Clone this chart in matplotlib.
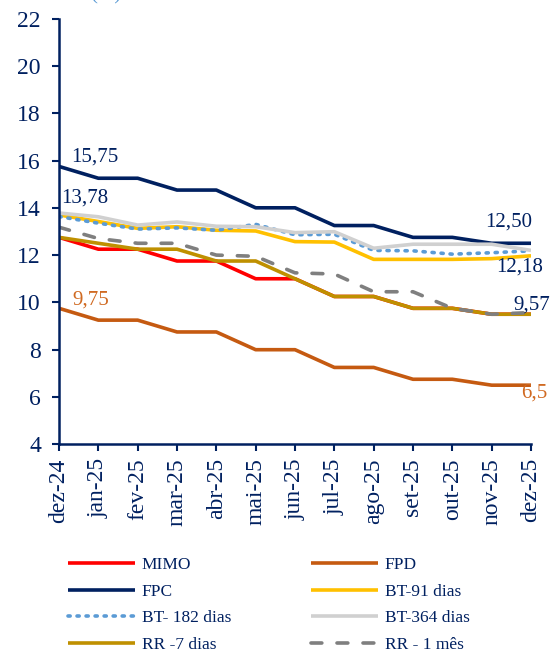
import matplotlib
matplotlib.use("Agg")
import matplotlib.pyplot as plt

months = ["dez-24", "jan-25", "fev-25", "mar-25", "abr-25", "mai-25", "jun-25",
          "jul-25", "ago-25", "set-25", "out-25", "nov-25", "dez-25"]

mimo   = [12.75, 12.25, 12.25, 11.75, 11.75, 11.0, 11.0, 10.25, 10.25, 9.75, 9.75, 9.5, 9.5]
fpd    = [9.75, 9.25, 9.25, 8.75, 8.75, 8.0, 8.0, 7.25, 7.25, 6.75, 6.75, 6.5, 6.5]
fpc    = [15.75, 15.25, 15.25, 14.75, 14.75, 14.0, 14.0, 13.25, 13.25, 12.75, 12.75, 12.5, 12.5]
bt91   = [13.70, 13.42, 13.13, 13.20, 13.05, 13.02, 12.57, 12.55, 11.82, 11.82, 11.82, 11.85, 11.97]
bt182  = [13.63, 13.35, 13.10, 13.15, 13.05, 13.30, 12.86, 12.88, 12.20, 12.18, 12.04, 12.10, 12.18]
bt364  = [13.78, 13.62, 13.27, 13.40, 13.22, 13.20, 12.95, 12.99, 12.29, 12.46, 12.46, 12.46, 12.20]
rr7    = [12.75, 12.50, 12.25, 12.25, 11.75, 11.75, 11.0, 10.25, 10.25, 9.75, 9.75, 9.5, 9.5]
rr1m   = [13.18, 12.70, 12.50, 12.50, 12.00, 11.95, 11.25, 11.20, 10.45, 10.45, 9.75, 9.50, 9.57]

yticks = [4, 6, 8, 10, 12, 14, 16, 18, 20, 22]

NAVY = "#002060"
ORANGE_TXT = "#D06A22"
FONT = ["Liberation Serif", "DejaVu Serif"]
plt.rcParams["font.family"] = FONT

fig = plt.figure(figsize=(5.5, 6.55), dpi=100)
ax = fig.add_axes([59/550, 1-444.3/655, 472/550, (444.3-18.6)/655])

x = list(range(len(months)))
lw = 2.6
series = [
    ("MIMO", mimo, dict(color="#FF0000", lw=lw, ls="-")),
    ("FPD", fpd, dict(color="#C55A11", lw=lw, ls="-")),
    ("FPC", fpc, dict(color=NAVY, lw=lw, ls="-")),
    ("BT-91 dias", bt91, dict(color="#FFC000", lw=lw, ls="-")),
    ("BT- 182 dias", bt182, dict(color="#5B9BD5", lw=lw, ls=(0, (0.6, 1.9)), dash_capstyle="round")),
    ("BT-364 dias", bt364, dict(color="#D0D0D0", lw=lw, ls="-")),
    ("RR -7 dias", rr7, dict(color="#BF9000", lw=lw, ls="-")),
    ("RR - 1 mês", rr1m, dict(color="#7F7F7F", lw=lw, ls=(0, (3, 4.2)), dash_capstyle="round")),
]
handles = {}
for name, vals, st in series:
    h, = ax.plot(x, vals, label=name, solid_capstyle="butt", **st)
    handles[name] = h

ax.set_xlim(0, 12)
ax.set_ylim(4, 22)
ax.set_yticks(yticks)
ax.set_xticks(x)
ax.set_xticklabels(months, rotation=90)
for s in ["top", "right"]:
    ax.spines[s].set_visible(False)
for s in ["left", "bottom"]:
    ax.spines[s].set_color(NAVY)
    ax.spines[s].set_linewidth(1.8)
ax.tick_params(axis="both", colors=NAVY, labelsize=17, direction="out", length=5, width=1.5)
ax.tick_params(axis="y", pad=8)
ax.tick_params(axis="x", pad=5)

# annotations
afs = 15
ax.text(0.92, 16.15, "15,75", color=NAVY, fontsize=afs, ha="center", va="center")
ax.text(0.66, 14.41, "13,78", color=NAVY, fontsize=afs, ha="center", va="center")
ax.text(0.81, 10.1, "9,75", color=ORANGE_TXT, fontsize=afs, ha="center", va="center")
ax.text(11.44, 13.4, "12,50", color=NAVY, fontsize=afs, ha="center", va="center")
ax.text(11.72, 11.5, "12,18", color=NAVY, fontsize=afs, ha="center", va="center")
ax.text(11.54, 9.89, "9,57", color=NAVY, fontsize=afs, ha="left", va="center", clip_on=False)
ax.text(11.74, 6.17, "6,5", color=ORANGE_TXT, fontsize=afs, ha="left", va="center", clip_on=False)

# cut-off title at top
fig.text(106/550, 1 + 1/655, "(%)", color="#5B9BD5", fontsize=15, ha="center", va="baseline")

order = ["MIMO", "FPC", "BT- 182 dias", "RR -7 dias",
         "FPD", "BT-91 dias", "BT-364 dias", "RR - 1 mês"]
leg = fig.legend([handles[n] for n in order], order, ncol=2, frameon=False,
                 loc="upper left", bbox_to_anchor=(68/550, 1-557/655),
                 fontsize=12.5, handlelength=3.85, handletextpad=0.4,
                 columnspacing=4.6, labelspacing=0.6, borderaxespad=0,
                 borderpad=0)
for t in leg.get_texts():
    t.set_color(NAVY)

fig.savefig("out.png", dpi=100)
